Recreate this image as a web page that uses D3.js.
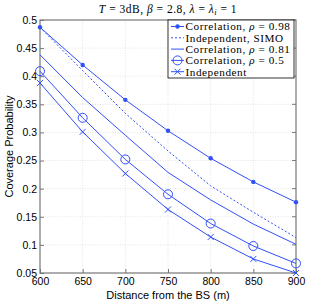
<!DOCTYPE html>
<html>
<head>
<meta charset="utf-8">
<script src="https://cdn.jsdelivr.net/npm/d3@7"></script>
<style>
  body { margin: 0; background: #fff; }
  svg { display: block; }
</style>
</head>
<body>
<svg id="chart"></svg>
<script>
const width = 309;
const height = 301;
const margin = { top: 20, right: 13, bottom: 28, left: 40 };

// Data
const distances = [600, 650, 700, 750, 800, 850, 900];
const corr098 = [0.487, 0.420, 0.358, 0.303, 0.254, 0.212, 0.176];
const indepSimo = [0.487, 0.410, 0.334, 0.267, 0.205, 0.158, 0.113];
const corr081 = [0.438, 0.362, 0.295, 0.229, 0.180, 0.137, 0.101];
const corr05 = [0.409, 0.326, 0.252, 0.190, 0.138, 0.098, 0.067];
const indep = [0.388, 0.301, 0.227, 0.163, 0.114, 0.075, 0.050];

const xTicks = [600, 650, 700, 750, 800, 850, 900];
const yTicks = [0.05, 0.1, 0.15, 0.2, 0.25, 0.3, 0.35, 0.4, 0.45, 0.5];

const blue = "#3050f8";

const series = [
  { name: "Correlation, ", rho: "0.98", values: corr098, marker: "dot", dash: null },
  { name: "Independent, SIMO", rho: null, values: indepSimo, marker: null, dash: "2,2" },
  { name: "Correlation, ", rho: "0.81", values: corr081, marker: null, dash: null },
  { name: "Correlation, ", rho: "0.5", values: corr05, marker: "circle", dash: null },
  { name: "Independent", rho: null, values: indep, marker: "cross", dash: null }
];

const svg = d3.select("#chart")
  .attr("width", width)
  .attr("height", height);

const xScale = d3.scaleLinear()
  .domain([600, 900])
  .range([margin.left, width - margin.right]);

const yScale = d3.scaleLinear()
  .domain([0.05, 0.5])
  .range([height - margin.bottom, margin.top]);

// grid
svg.append("g")
  .selectAll("line")
  .data(xTicks.slice(1, -1))
  .join("line")
  .attr("x1", d => xScale(d)).attr("x2", d => xScale(d))
  .attr("y1", margin.top).attr("y2", height - margin.bottom)
  .attr("stroke", "#d4d4d4").attr("stroke-width", 0.6)
  .attr("stroke-dasharray", "1,1.5");

svg.append("g")
  .selectAll("line")
  .data(yTicks.slice(1, -1))
  .join("line")
  .attr("y1", d => yScale(d)).attr("y2", d => yScale(d))
  .attr("x1", margin.left).attr("x2", width - margin.right)
  .attr("stroke", "#d4d4d4").attr("stroke-width", 0.6)
  .attr("stroke-dasharray", "1,1.5");

// axes
const xAxis = d3.axisBottom(xScale).tickValues(xTicks).tickSize(-4).tickPadding(5).tickFormat(d3.format("d"));
svg.append("g")
  .attr("transform", `translate(0, ${height - margin.bottom})`)
  .call(xAxis)
  .call(g => g.select(".domain").remove());

const yAxis = d3.axisLeft(yScale).tickValues(yTicks).tickSize(-4).tickPadding(3).tickFormat(d => String(d));
svg.append("g")
  .attr("transform", `translate(${margin.left}, 0)`)
  .call(yAxis)
  .call(g => g.select(".domain").remove());

svg.selectAll(".tick line").attr("stroke", "#777");
svg.selectAll(".tick text")
  .attr("fill", "#000")
  .style("font-family", "Liberation Sans, Arial, sans-serif")
  .style("font-size", "10.5px");

// right ticks
svg.append("g").selectAll("line")
  .data(yTicks)
  .join("line")
  .attr("x1", width - margin.right).attr("x2", width - margin.right - 4)
  .attr("y1", d => yScale(d)).attr("y2", d => yScale(d))
  .attr("stroke", "#777");

// box
svg.append("rect")
  .attr("x", margin.left).attr("y", margin.top)
  .attr("width", width - margin.left - margin.right)
  .attr("height", height - margin.top - margin.bottom)
  .attr("fill", "none")
  .attr("stroke", "#777").attr("stroke-width", 1.2);

// lines
const line = d3.line()
  .x((d, i) => xScale(distances[i]))
  .y(d => yScale(d));

const plot = svg.append("g");

function drawMarker(g, type, x, y) {
  if (type === "dot") {
    g.append("circle").attr("cx", x).attr("cy", y).attr("r", 2.2).attr("fill", blue);
  } else if (type === "circle") {
    g.append("circle").attr("cx", x).attr("cy", y).attr("r", 4.5)
      .attr("fill", "none").attr("stroke", blue).attr("stroke-width", 1);
  } else if (type === "cross") {
    const s = 3;
    g.append("path")
      .attr("d", `M${x - s},${y - s}L${x + s},${y + s}M${x - s},${y + s}L${x + s},${y - s}`)
      .attr("stroke", blue).attr("stroke-width", 1).attr("fill", "none");
  }
}

series.forEach(s => {
  plot.append("path")
    .datum(s.values)
    .attr("d", line)
    .attr("fill", "none")
    .attr("stroke", blue)
    .attr("stroke-width", 1)
    .attr("stroke-dasharray", s.dash);
  if (s.marker) {
    s.values.forEach((v, i) => drawMarker(plot, s.marker, xScale(distances[i]), yScale(v)));
  }
});

// title
const title = svg.append("text")
  .attr("x", 168).attr("y", 13)
  .attr("text-anchor", "middle")
  .style("font-family", "Liberation Serif, serif")
  .style("font-size", "11.5px")
  .style("letter-spacing", "0.5px");
title.append("tspan").style("font-style", "italic").text("T");
title.append("tspan").text(" = 3dB, ");
title.append("tspan").style("font-style", "italic").text("β");
title.append("tspan").text(" = 2.8, ");
title.append("tspan").style("font-style", "italic").text("λ");
title.append("tspan").text(" = ");
title.append("tspan").style("font-style", "italic").text("λ");
title.append("tspan").style("font-style", "italic").attr("baseline-shift", "-25%").style("font-size", "8.5px").text("i");
title.append("tspan").text(" = 1");

// axis labels
svg.append("text")
  .attr("x", xScale(750)).attr("y", 298.5)
  .attr("text-anchor", "middle")
  .style("font-family", "Liberation Sans, Arial, sans-serif")
  .style("font-size", "11px")
  .text("Distance from the BS (m)");

svg.append("text")
  .attr("transform", `translate(13, ${yScale(0.275)}) rotate(-90)`)
  .attr("text-anchor", "middle")
  .style("font-family", "Liberation Sans, Arial, sans-serif")
  .style("font-size", "11px")
  .text("Coverage Probability");

// legend
const legend = svg.append("g").attr("id", "legend");
const lx = 168, ly = 20, lw = 126, lh = 58, rowH = 11.3;
legend.append("rect")
  .attr("x", lx).attr("y", ly).attr("width", lw).attr("height", lh)
  .attr("fill", "#fff").attr("stroke", "#000").attr("stroke-width", 0.8);

series.forEach((s, i) => {
  const y = ly + 6.5 + i * rowH;
  legend.append("line")
    .attr("x1", lx + 3).attr("x2", lx + 16)
    .attr("y1", y).attr("y2", y)
    .attr("stroke", blue).attr("stroke-width", 1)
    .attr("stroke-dasharray", s.dash);
  if (s.marker) drawMarker(legend, s.marker, lx + 9.5, y);
  const t = legend.append("text")
    .attr("x", lx + 17.5).attr("y", y + 3.8)
    .style("font-family", "Liberation Serif, serif")
    .style("font-size", "11.2px")
    .style("letter-spacing", "0.55px");
  t.append("tspan").text(s.name);
  if (s.rho) {
    t.append("tspan").style("font-style", "italic").text("ρ");
    t.append("tspan").text(" = " + s.rho);
  }
});
</script>
</body>
</html>
